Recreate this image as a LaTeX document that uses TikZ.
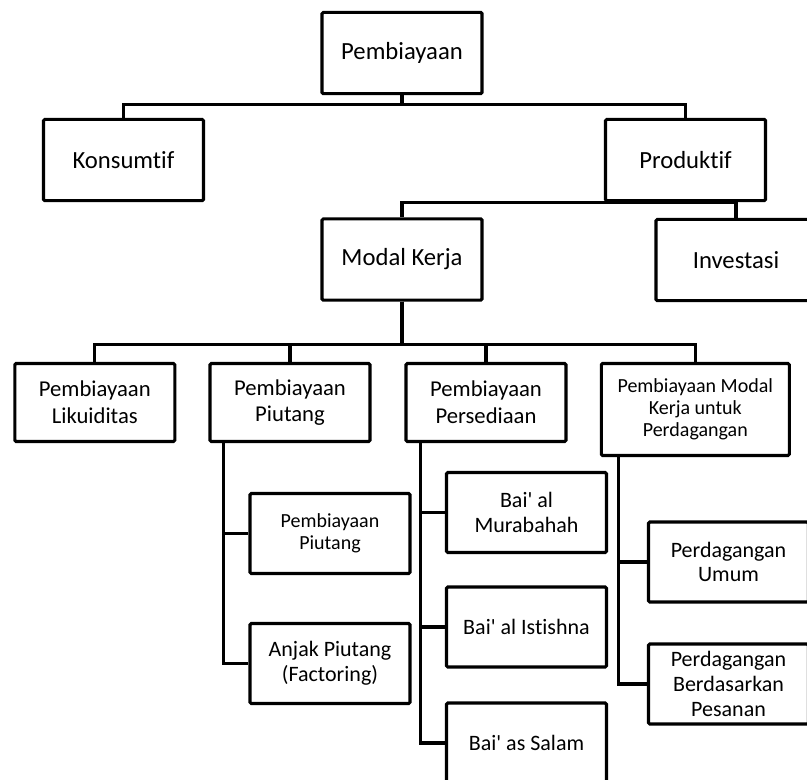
\documentclass[tikz,border=0pt]{standalone}
\usepackage{fontspec}
\setmainfont{Carlito}[Ligatures={NoCommon}]
\usepackage{tikz}
\usetikzlibrary{positioning}
\newcommand{\apos}{\textquotesingle}

\begin{document}
\begin{tikzpicture}[
  x=0.75pt,y=-0.75pt,
  box/.style={draw=black,line width=2.3pt,rounded corners=1pt,align=center,
              inner sep=2pt,minimum width=120pt,minimum height=61pt,
              font=\fontsize{18.5}{22}\selectfont},
  rowbox/.style={box,minimum height=58.5pt,font=\fontsize{17}{20}\selectfont},
  subbox/.style={box,minimum height=60pt,font=\fontsize{16.5}{18.5}\selectfont},
  smallbox/.style={font=\fontsize{15}{16.5}\selectfont},
  link/.style={line width=2.3pt,black}
]
  \path[use as bounding box,fill=white] (0,0) rectangle (807,779);

  \node[box] (root) at (402,53) {Pembiayaan};
  \node[box] (kons) at (123.5,160) {Konsumtif};
  \node[box] (prod) at (685.5,160) {Produktif};
  \node[box] (modal) at (402,259.5) {Modal Kerja};
  \node[box] (inv) at (736,260) {Investasi};

  \node[rowbox] (lik) at (94.8,402.5) {Pembiayaan\\Likuiditas};
  \node[rowbox] (piut) at (290,402.5) {Pembiayaan\\Piutang};
  \node[rowbox] (pers) at (486,402.5) {Pembiayaan\\Persediaan};
  \node[rowbox,smallbox,minimum width=141pt,minimum height=69pt] (dag) at (695.3,409.5)
    {Pembiayaan Modal\\Kerja untuk\\Perdagangan};

  \node[subbox,smallbox] (pp) at (330,533.5) {Pembiayaan\\Piutang};
  \node[subbox] (anjak) at (330,663.5) {Anjak Piutang\\(Factoring)};
  \node[subbox] (mur) at (526.5,512.5) {Bai\apos{} al\\Murabahah};
  \node[subbox] (ist) at (526.5,627) {Bai\apos{} al Istishna};
  \node[subbox] (salam) at (526.5,743) {Bai\apos{} as Salam};
  \node[subbox] (umum) at (728.5,562) {Perdagangan\\Umum};
  \node[subbox] (pesan) at (728.5,684) {Perdagangan\\Berdasarkan\\Pesanan};

  \draw[link] (root.south) -- ++(0,9) -| (kons.north);
  \draw[link] (root.south) -- ++(0,9) -| (prod.north);
  \draw[link] (prod.south) -| (modal.north);
  \draw[link] (prod.south) -| (inv.north);
  \foreach \n in {lik,piut,pers,dag}
    \draw[link] (modal.south) -- ++(0,43) -| (\n.north);

  \foreach \n in {pp,anjak}
    \draw[link] ([xshift=11pt]piut.south west) |- (\n.west);
  \foreach \n in {mur,ist,salam}
    \draw[link] ([xshift=12pt]pers.south west) |- (\n.west);
  \foreach \n in {umum,pesan}
    \draw[link] ([xshift=14pt]dag.south west) |- (\n.west);
\end{tikzpicture}
\end{document}
